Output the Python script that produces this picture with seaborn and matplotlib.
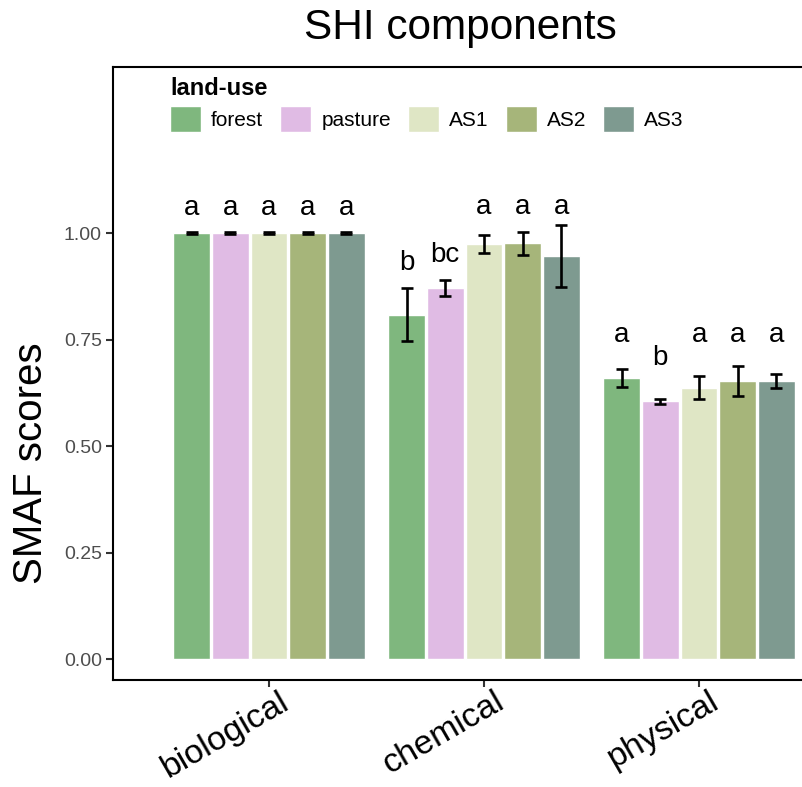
import matplotlib
matplotlib.use("Agg")
import matplotlib.pyplot as plt
import matplotlib.transforms as mtransforms
import seaborn as sns
import pandas as pd

# ---- data ----
components = ["biological", "chemical", "physical"]
land_uses = ["forest", "pasture", "AS1", "AS2", "AS3"]
colors = ["#7FB77E", "#E0BBE4", "#DFE6C5", "#A6B57A", "#7E9A90"]

bio_mean = [1.000, 1.000, 1.000, 1.000, 1.000]
bio_sd = [0.002, 0.002, 0.002, 0.002, 0.002]
chem_mean = [0.809, 0.871, 0.974, 0.976, 0.946]
chem_sd = [0.062, 0.019, 0.021, 0.027, 0.073]
phys_mean = [0.660, 0.605, 0.637, 0.653, 0.653]
phys_sd = [0.022, 0.005, 0.027, 0.036, 0.017]

bio_letters = ["a", "a", "a", "a", "a"]
chem_letters = ["b", "bc", "a", "a", "a"]
phys_letters = ["a", "b", "a", "a", "a"]
bio_letter_y = [1.043, 1.043, 1.043, 1.043, 1.043]
chem_letter_y = [0.913, 0.932, 1.045, 1.045, 1.045]
phys_letter_y = [0.744, 0.690, 0.744, 0.744, 0.744]

yticks = [0.00, 0.25, 0.50, 0.75, 1.00]
ytick_labels = ["0.00", "0.25", "0.50", "0.75", "1.00"]

means = {"biological": bio_mean, "chemical": chem_mean, "physical": phys_mean}
sds = {"biological": bio_sd, "chemical": chem_sd, "physical": phys_sd}
letters = {"biological": bio_letters, "chemical": chem_letters, "physical": phys_letters}
letter_y = {"biological": bio_letter_y, "chemical": chem_letter_y, "physical": phys_letter_y}

rows = []
for comp in components:
    for i, lu in enumerate(land_uses):
        rows.append({"component": comp, "land_use": lu,
                     "mean": means[comp][i], "sd": sds[comp][i],
                     "letter": letters[comp][i], "ly": letter_y[comp][i]})
df = pd.DataFrame(rows)

# ---- style ----
sns.set_style("ticks")
plt.rcParams["font.family"] = ["Liberation Sans", "DejaVu Sans"]
plt.rcParams["text.color"] = "black"

W, H = 802, 787
fig = plt.figure(figsize=(W / 100, H / 100), dpi=100)
left, right, top, bottom = 113, 855, 67, 680
ax = fig.add_axes([left / W, 1 - bottom / H, (right - left) / W, (bottom - top) / H])

sns.barplot(data=df, x="component", y="mean", hue="land_use",
            order=components, hue_order=land_uses, palette=colors,
            saturation=1, width=0.9, gap=0.05, errorbar=None, ax=ax)

# error bars and letters from bar positions
for container, lu in zip(ax.containers, land_uses):
    for bar, comp in zip(container, components):
        r = df[(df.component == comp) & (df.land_use == lu)].iloc[0]
        xc = bar.get_x() + bar.get_width() / 2
        ax.errorbar([xc], [r["mean"]], yerr=[r["sd"]], fmt="none", ecolor="black",
                    elinewidth=1.9, capsize=4, capthick=1.9, zorder=5)
        ax.text(xc, r["ly"], r["letter"], ha="center", va="baseline",
                fontsize=20, color="black")

ax.set_xlim(-0.725, 2.725)
ax.set_ylim(-0.049, 1.39)
ax.set_yticks(yticks)
ax.set_yticklabels(ytick_labels)
ax.set_xticks(range(len(components)))
ax.set_xticklabels([])
ax.set_xlabel("")
ax.set_ylabel("")

# rotated category labels placed at the tick positions
blend = mtransforms.blended_transform_factory(ax.transData, ax.transAxes)
offset = mtransforms.ScaledTranslation(10 / 100, -6 / 100, fig.dpi_scale_trans)
for i, comp in enumerate(components):
    ax.text(i, 0, comp, transform=blend + offset, rotation=30, ha="right",
            va="top", rotation_mode="anchor", fontsize=24.5, color="black",
            clip_on=False)

for s in ["left", "bottom", "top"]:
    ax.spines[s].set_linewidth(1.5)
    ax.spines[s].set_color("black")
ax.spines["right"].set_visible(False)
ax.tick_params(axis="both", length=5, width=1.5, color="#333333")
ax.tick_params(axis="y", labelsize=14, labelcolor="#4D4D4D", pad=3)

handles, labels = ax.get_legend_handles_labels()
ax.legend(handles, labels, title="land-use", ncol=5, loc="upper left",
          bbox_to_anchor=(170 / W, 1 - 77 / H), bbox_transform=fig.transFigure,
          frameon=False, fontsize=15, title_fontproperties={"weight": "bold", "size": 17},
          alignment="left", handlelength=1.49, handleheight=1.49, handletextpad=0.48,
          columnspacing=0.82, borderpad=0, borderaxespad=0, labelspacing=0.3)

fig.text(460 / W, 1 - 39 / H, "SHI components", ha="center", va="baseline", fontsize=30.5)
fig.text(31 / W, 1 - 463 / H, "SMAF scores", ha="center", va="center",
         rotation=90, fontsize=29)

fig.savefig("out.png", dpi=100)
